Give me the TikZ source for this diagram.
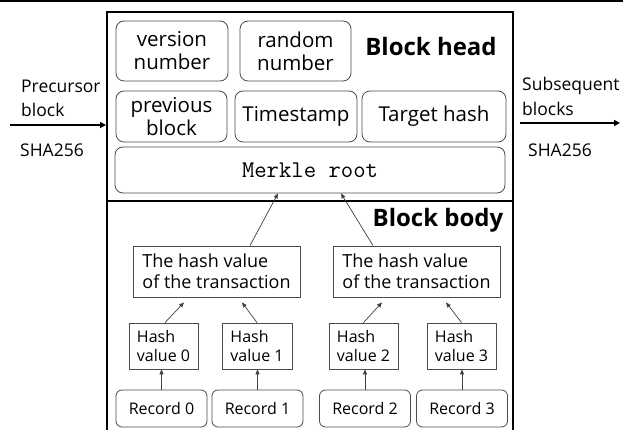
\documentclass[tikz,border=0pt]{standalone}
\usepackage{fontspec}
\setmainfont{Open Sans}
\usetikzlibrary{arrows.meta}
\begin{document}
\begin{tikzpicture}[x=1pt,y=-1pt,
  rbox/.style={draw=black!70, line width=0.8pt, rounded corners=8pt, align=center, inner sep=0pt, font=\fontsize{20.5}{23}\selectfont},
  recbox/.style={draw=black!70, line width=0.8pt, rounded corners=6pt, align=center, inner sep=0pt, minimum width=91pt, minimum height=37pt, font=\fontsize{16}{19}\selectfont},
  txbox/.style={draw=black!70, line width=0.8pt, align=left, inner sep=0pt, minimum width=167pt, minimum height=51pt, font=\fontsize{18}{21}\selectfont},
  hbox/.style={draw=black!70, line width=0.8pt, align=left, inner sep=0pt, minimum width=69pt, minimum height=46pt, font=\fontsize{16}{19}\selectfont},
  title/.style={font=\fontsize{24}{28}\selectfont\bfseries, inner sep=0pt},
  side/.style={font=\fontsize{17.5}{21}\selectfont, inner sep=0pt, anchor=west},
  thin arrow/.style={draw=black!75, line width=0.7pt, -{Triangle[length=5pt,width=4pt]}},
  thick arrow/.style={draw=black, line width=1.6pt, -{Triangle[length=6pt,width=6pt]}}
]
\useasboundingbox (0,0) rectangle (623,430);
\fill[white] (0,0) rectangle (623,430);
% top rule
\draw[line width=2pt] (0,1) -- (623,1);
% outer frame
\draw[line width=1.8pt] (107,432) -- (107,12) -- (513,12) -- (513,432);
\draw[line width=1.8pt] (107,201) -- (513,201);
\coordinate (L) at (106,125);
\coordinate (Ls) at (10,125);
\coordinate (R) at (620,123);
\coordinate (Rs) at (520,123);

% head
\node[rbox, minimum width=112pt, minimum height=60pt] (ver) at (172,51) {version\\number};
\node[rbox, minimum width=111pt, minimum height=60pt] (rnd) at (295.5,51) {random\\number};
\node[title] (bh) at (431,47) {Block head};
\node[rbox, minimum width=111pt, minimum height=51pt] (prev) at (171.5,116.5) {previous\\block};
\node[rbox, minimum width=122pt, minimum height=51pt] (ts) at (296,116.5) {Timestamp};
\node[rbox, minimum width=144pt, minimum height=51pt] (th) at (434,116.5) {Target hash};
\node[rbox, minimum width=390pt, minimum height=46pt, font=\fontsize{24}{28}\ttfamily] (mr) at (310,170) {Merkle root};

% body
\node[title] (bb) at (438,220) {Block body};
\node[txbox] (tx1) at (216.5,271.5) {The hash value\\of the transaction};
\node[txbox] (tx2) at (416.5,271.5) {The hash value\\of the transaction};
\node[hbox] (h0) at (163.5,346) {Hash\\value 0};
\node[hbox, minimum width=70pt] (h1) at (257,346) {Hash\\value 1};
\node[hbox] (h2) at (363.5,346) {Hash\\value 2};
\node[hbox] (h3) at (461.5,346) {Hash\\value 3};
\node[recbox] (r0) at (161.5,408.5) {Record 0};
\node[recbox] (r1) at (257.5,408.5) {Record 1};
\node[recbox] (r2) at (365,408.5) {Record 2};
\node[recbox] (r3) at (462,408.5) {Record 3};

% side labels
\node[side] (pre) at (21,86) {Precursor};
\node[side] (preb) at (21,110) {block};
\node[side] (psha) at (20,150) {SHA256};
\node[side] (sub) at (522,86) {Subsequent};
\node[side] (subb) at (522,109) {blocks};
\node[side] (ssha) at (528,150) {SHA256};
\draw[thick arrow] (Ls) -- (L);
\draw[thick arrow] (Rs) -- (R);

% arrows
\draw[thin arrow] (r0.north) -- (r0.north |- h0.south);
\draw[thin arrow] (r1.north) -- (r1.north |- h1.south);
\draw[thin arrow] (r2.north) -- (r2.north |- h2.south);
\draw[thin arrow] (r3.north) -- (r3.north |- h3.south);
\draw[thin arrow] ([xshift=1.5pt]h0.north) -- ([xshift=-32.5pt,yshift=-5pt]tx1.south);
\draw[thin arrow] ([xshift=0pt]h1.north) -- ([xshift=25.5pt,yshift=-5pt]tx1.south);
\draw[thin arrow] ([xshift=0pt]h2.north) -- ([xshift=-34.5pt,yshift=-5pt]tx2.south);
\draw[thin arrow] ([xshift=0pt]h3.north) -- ([xshift=29.5pt,yshift=-5pt]tx2.south);
\draw[thin arrow] ([xshift=33.5pt]tx1.north) -- ([xshift=-32pt]mr.south);
\draw[thin arrow] ([xshift=-43.5pt]tx2.north) -- ([xshift=31pt]mr.south);
\end{tikzpicture}
\end{document}
